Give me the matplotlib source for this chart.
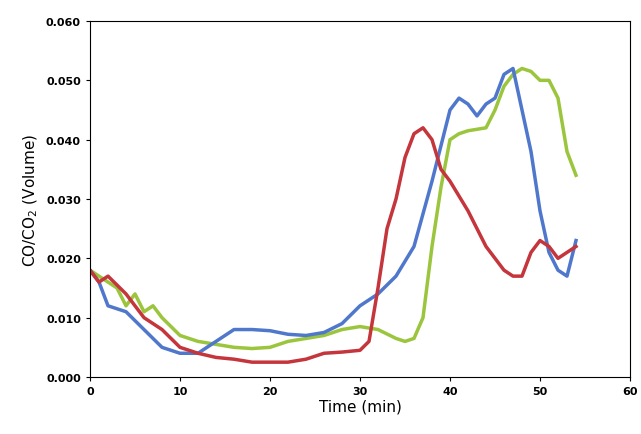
import matplotlib
matplotlib.use("Agg")
import matplotlib.pyplot as plt
import numpy as np

blue_t = [0,1,2,4,6,8,10,12,14,16,18,20,22,24,26,28,30,32,34,36,38,40,41,42,43,44,45,46,47,48,49,50,51,52,53,54]
blue_v = [0.018,0.016,0.012,0.011,0.008,0.005,0.004,0.004,0.006,0.008,0.008,0.0078,0.0072,0.007,0.0075,0.009,0.012,0.014,0.017,0.022,0.033,0.045,0.047,0.046,0.044,0.046,0.047,0.051,0.052,0.045,0.038,0.028,0.021,0.018,0.017,0.023]

red_t = [0,1,2,4,6,8,10,12,14,16,18,20,22,24,26,28,30,31,32,33,34,35,36,37,38,39,40,42,44,46,47,48,49,50,51,52,53,54]
red_v = [0.018,0.016,0.017,0.014,0.010,0.008,0.005,0.004,0.0033,0.003,0.0025,0.0025,0.0025,0.003,0.004,0.0042,0.0045,0.006,0.015,0.025,0.030,0.037,0.041,0.042,0.040,0.035,0.033,0.028,0.022,0.018,0.017,0.017,0.021,0.023,0.022,0.020,0.021,0.022]

green_t = [0,2,3,4,5,6,7,8,10,12,14,16,18,20,22,24,26,28,30,32,34,35,36,37,38,39,40,41,42,44,45,46,47,48,49,50,51,52,53,54]
green_v = [0.018,0.016,0.015,0.012,0.014,0.011,0.012,0.010,0.007,0.006,0.0055,0.005,0.0048,0.005,0.006,0.0065,0.007,0.008,0.0085,0.008,0.0065,0.006,0.0065,0.010,0.022,0.032,0.040,0.041,0.0415,0.042,0.045,0.049,0.051,0.052,0.0515,0.050,0.050,0.047,0.038,0.034]

fig = plt.figure(figsize=(6.41, 4.35), dpi=100)
ax = fig.add_axes([90/641, 1-378/435, 540/641, 356/435])
ax.plot(green_t, green_v, color='#9bc53d', lw=2.5)
ax.plot(blue_t, blue_v, color='#4f78cc', lw=2.5)
ax.plot(red_t, red_v, color='#c4353c', lw=2.5)
ax.set_xlim(0, 60)
ax.set_ylim(0, 0.060)
ax.set_xticks(np.arange(0, 61, 10))
ax.set_yticks(np.arange(0, 0.061, 0.01))
ax.set_yticklabels(['%.3f' % v for v in np.arange(0, 0.061, 0.01)])
ax.tick_params(labelsize=8, direction='out', length=3)
for lab in ax.get_xticklabels() + ax.get_yticklabels():
    lab.set_fontweight('bold')
ax.set_xlabel('Time (min)', fontsize=11, labelpad=2)
ax.set_ylabel('CO/CO$_2$ (Volume)', fontsize=11)
fig.savefig('out.png', dpi=100)
